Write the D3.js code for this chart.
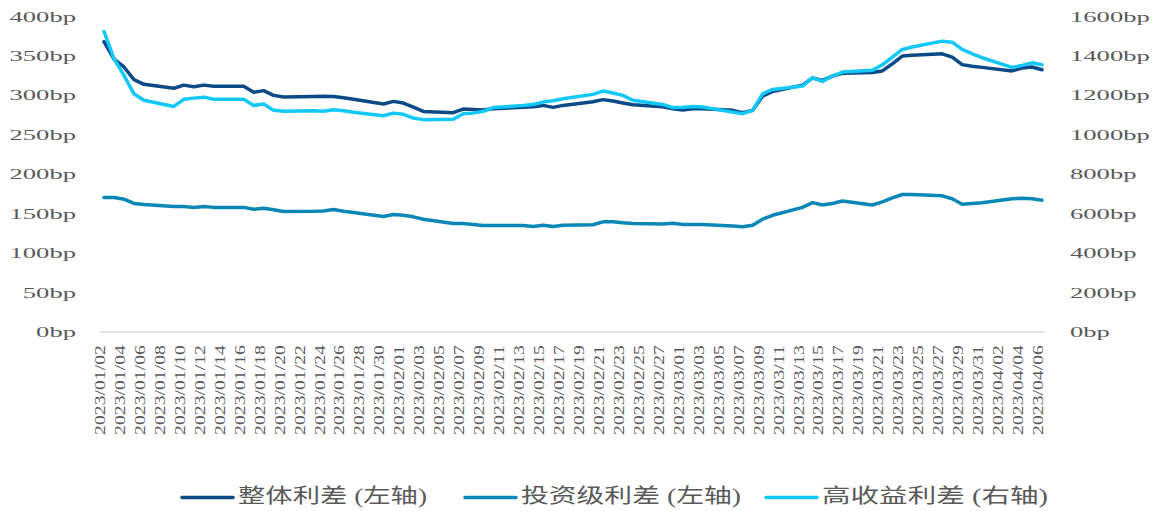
<!DOCTYPE html>
<html><head><meta charset="utf-8">
<script src="https://cdn.jsdelivr.net/npm/d3@7"></script>
<style>
html,body{margin:0;padding:0;background:#fff;}
svg{display:block;}
text{font-family:"Liberation Serif","DejaVu Serif",serif;fill:#595959;}
text.cjk{font-family:"Liberation Serif","Noto Sans CJK SC",serif;}
</style></head>
<body>
<svg id="chart" width="1155" height="511"></svg>
<script>
const dates = [
 "2023-01-02","2023-01-03","2023-01-04","2023-01-05","2023-01-06","2023-01-09","2023-01-10","2023-01-11","2023-01-12","2023-01-13",
 "2023-01-16","2023-01-17","2023-01-18","2023-01-19","2023-01-20","2023-01-23","2023-01-24","2023-01-25","2023-01-26","2023-01-27",
 "2023-01-30","2023-01-31","2023-02-01","2023-02-02","2023-02-03","2023-02-06","2023-02-07","2023-02-08","2023-02-09","2023-02-10",
 "2023-02-13","2023-02-14","2023-02-15","2023-02-16","2023-02-17","2023-02-20","2023-02-21","2023-02-22","2023-02-23","2023-02-24",
 "2023-02-27","2023-02-28","2023-03-01","2023-03-02","2023-03-03","2023-03-06","2023-03-07","2023-03-08","2023-03-09","2023-03-10",
 "2023-03-13","2023-03-14","2023-03-15","2023-03-16","2023-03-17","2023-03-20","2023-03-21","2023-03-22","2023-03-23","2023-03-24",
 "2023-03-27","2023-03-28","2023-03-29","2023-03-30","2023-03-31","2023-04-03","2023-04-04","2023-04-05","2023-04-06"
];
// 整体利差 (左轴)
const overallSpread = [
 368,346,336,320,314,309,313,311,313,311.5,
 311.5,304,306,300,298,298.7,299,298.7,297,295,
 289,292.4,290.3,285,279.7,278,282.7,282,281.4,283,
 284.8,285.6,287.3,284.8,287.3,292,294.6,292.8,290.3,288,
 285.6,283.1,281.4,283,283,281,278,281,299,305,
 313,322,319,324.5,328,329,331,340,349.8,351,
 352.7,348.5,339,337,335.5,331,334.6,336,332.5
];
// 投资级利差 (左轴)
const igSpread = [
 170.5,170.5,168.4,163,161.6,159,159,157.8,159,158,
 158,155.7,157,154.9,152.7,153,153.5,155.3,153,151.5,
 146.4,149,148,146,143,137.6,137.6,136.3,135,135,
 135,133.8,135.4,133.8,135.4,136,139.7,139.7,138.5,137.6,
 137,138,136.3,136.3,136.3,134.5,133.5,135.4,143,148,
 158,164,161,163,166,161,165,170,174.3,174.3,
 172.6,169,162,163,164,169,169.6,169,167
];
// 高收益利差 (右轴)
const hySpread = [
 1524,1386,1301,1208,1175,1144,1180,1186,1191,1180,
 1180,1149,1156,1124,1119,1122,1120,1127,1122,1114,
 1097,1110,1104,1085,1077,1079,1107,1110,1119,1138,
 1149,1154,1166,1173,1183,1205,1222,1212,1200,1175,
 1154,1138,1140,1144,1141,1115,1107,1124,1208,1230,
 1247,1290,1271,1298,1318,1327,1355,1394,1433,1445,
 1475,1470,1433,1411,1391,1342,1352,1365,1355
];
const leftTicks = [0,50,100,150,200,250,300,350,400];
const rightTicks = [0,200,400,600,800,1000,1200,1400,1600];
const xTickLabels = [
 "2023/01/02","2023/01/04","2023/01/06","2023/01/08","2023/01/10","2023/01/12","2023/01/14","2023/01/16",
 "2023/01/18","2023/01/20","2023/01/22","2023/01/24","2023/01/26","2023/01/28","2023/01/30","2023/02/01",
 "2023/02/03","2023/02/05","2023/02/07","2023/02/09","2023/02/11","2023/02/13","2023/02/15","2023/02/17",
 "2023/02/19","2023/02/21","2023/02/23","2023/02/25","2023/02/27","2023/03/01","2023/03/03","2023/03/05",
 "2023/03/07","2023/03/09","2023/03/11","2023/03/13","2023/03/15","2023/03/17","2023/03/19","2023/03/21",
 "2023/03/23","2023/03/25","2023/03/27","2023/03/29","2023/03/31","2023/04/02","2023/04/04","2023/04/06"
];
const seriesNames = ["整体利差 (左轴)","投资级利差 (左轴)","高收益利差 (右轴)"];
const seriesColors = ["#0B4A86","#0A86B7","#12C8F8"];

const svg = d3.select("#chart");
const parse = d3.timeParse("%Y-%m-%d");
const parseTick = d3.timeParse("%Y/%m/%d");
const xDates = dates.map(parse);

const x = d3.scaleTime().domain([parseTick(xTickLabels[0]), parseTick(xTickLabels[xTickLabels.length-1])]).range([104,1042]);
const yL = d3.scaleLinear().domain([0,400]).range([332,16.5]);
const yR = d3.scaleLinear().domain([0,1600]).range([332,16.5]);

const CHAR_W = 13.3;
svg.append("g").selectAll("text").data(leftTicks).join("text")
  .attr("x", d => 76 - (d+"bp").length*CHAR_W)
  .attr("y", d => yL(d) + 5)
  .attr("font-size", 15)
  .attr("textLength", d => (d+"bp").length*CHAR_W)
  .attr("lengthAdjust","spacingAndGlyphs")
  .text(d => d + "bp");
svg.append("g").selectAll("text").data(rightTicks).join("text")
  .attr("x", 1070)
  .attr("y", d => yR(d) + 5)
  .attr("font-size", 15)
  .attr("textLength", d => (d+"bp").length*CHAR_W)
  .attr("lengthAdjust","spacingAndGlyphs")
  .text(d => d + "bp");

svg.append("line").attr("x1",100).attr("x2",1045).attr("y1",332).attr("y2",332)
  .attr("stroke","#D9D9D9").attr("stroke-width",1.5);

svg.append("g").selectAll("text").data(xTickLabels).join("text")
  .attr("transform", d => `translate(${x(parseTick(d))+1},435) rotate(-90)`)
  .attr("font-size", 15)
  .attr("textLength", 90)
  .attr("lengthAdjust","spacingAndGlyphs")
  .text(d => d);

const lineL = d3.line().x((d,i)=>x(xDates[i])).y(d=>yL(d));
const lineR = d3.line().x((d,i)=>x(xDates[i])).y(d=>yR(d));
const seriesData = [[overallSpread,lineL],[igSpread,lineL],[hySpread,lineR]];
seriesData.forEach(([vals,gen],i)=>{
  svg.append("path").attr("d", gen(vals)).attr("fill","none")
    .attr("stroke", seriesColors[i]).attr("stroke-width",3.5)
    .attr("stroke-linejoin","round").attr("stroke-linecap","round");
});

const legendX = [182, 465, 766];
const legendW = [189, 220, 226];
const lg = svg.append("g");
seriesNames.forEach((n,i)=>{
  lg.append("line").attr("x1",legendX[i]).attr("x2",legendX[i]+51).attr("y1",497.5).attr("y2",497.5)
    .attr("stroke",seriesColors[i]).attr("stroke-width",3.5).attr("stroke-linecap","round");
  lg.append("text").attr("class","cjk").attr("x",legendX[i]+56).attr("y",503).attr("font-size",20)
    .attr("textLength",legendW[i]).attr("lengthAdjust","spacingAndGlyphs").text(n);
});
</script>
</body></html>
